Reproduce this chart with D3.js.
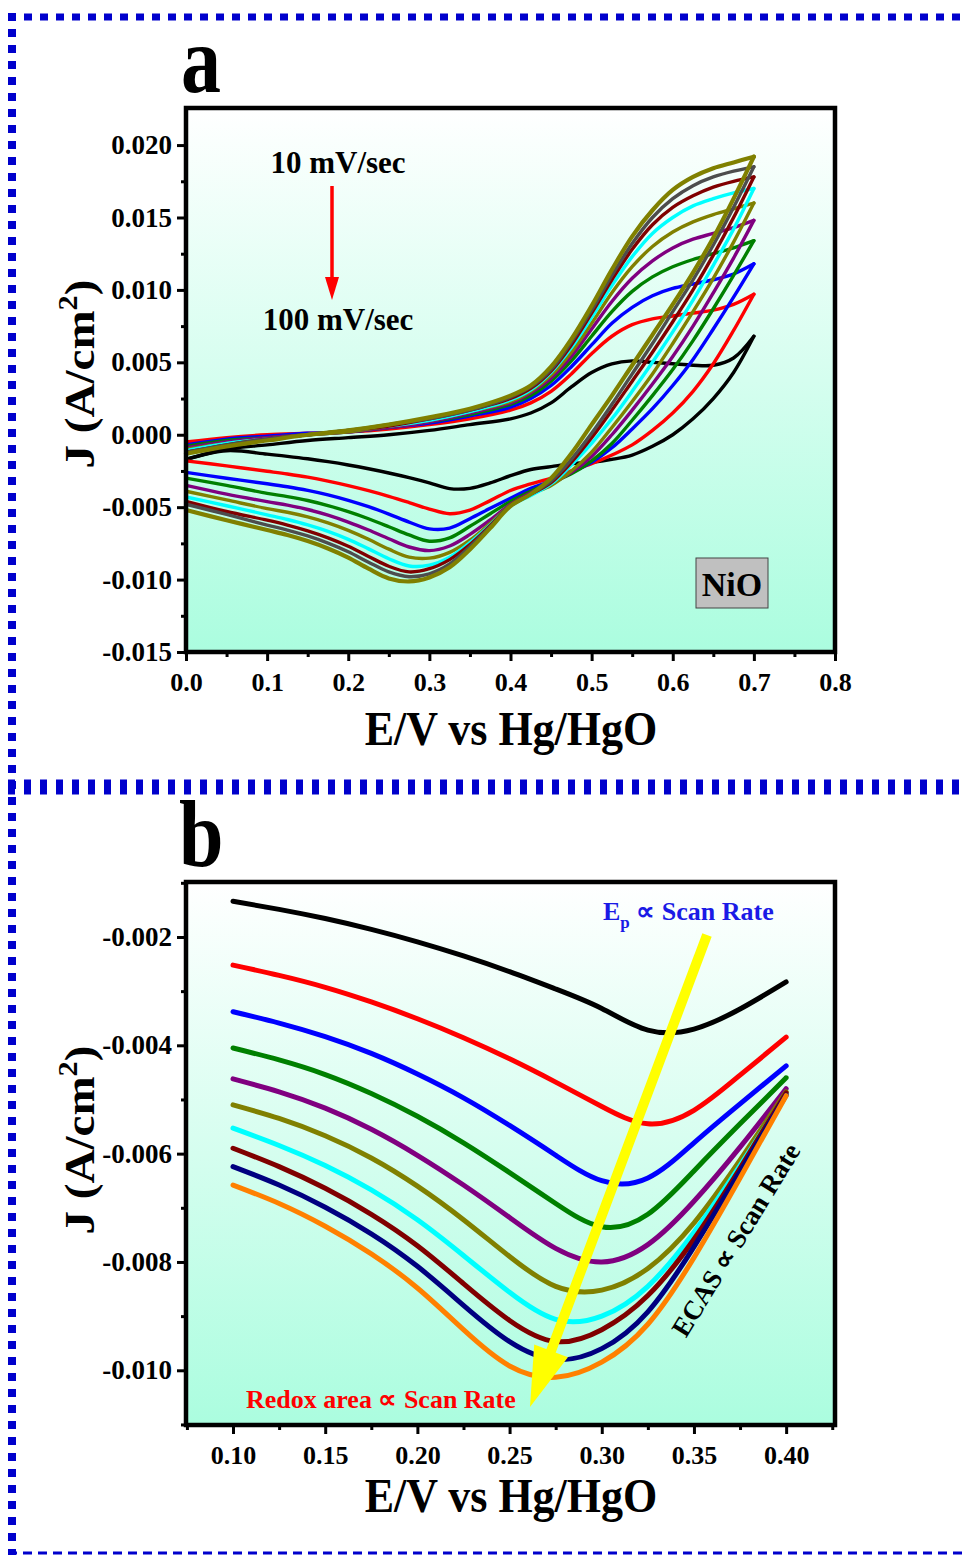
<!DOCTYPE html>
<html>
<head>
<meta charset="utf-8">
<script src="https://cdn.jsdelivr.net/npm/d3@7"></script>
<style>
  body { margin: 0; background: #fff; }
  svg text { font-family: "Liberation Serif", "Times New Roman", serif; font-weight: bold; }
</style>
</head>
<body>
<div id="chart"></div>
<script>
// scan rates, mV/s
const scanRates = [10, 20, 30, 40, 50, 60, 70, 80, 90, 100];
const coloursA = ['#000000', '#ff0000', '#0000ff', '#008000', '#800080', '#808000', '#00ffff', '#800000', '#4d4d4d', '#808000'];
const coloursB = ['#000000', '#ff0000', '#0000ff', '#008000', '#800080', '#808000', '#00ffff', '#800000', '#000080', '#ff8000'];

// anodic sweep 0 -> 0.7 V
const anodicE = [0, 0.05, 0.1, 0.15, 0.2, 0.25, 0.3, 0.35, 0.4, 0.425, 0.45, 0.475, 0.5, 0.525, 0.55, 0.575, 0.6, 0.625, 0.65, 0.675, 0.7];
const anodicJ = [
  [-0.0017, -0.0010, -0.0007, -0.0004, -0.0002, 0.0000, 0.0003, 0.0007, 0.0011, 0.0015, 0.0022, 0.0033, 0.0043, 0.0049, 0.0051, 0.0050, 0.0049, 0.0048, 0.0048, 0.0053, 0.0068],
  [-0.0005, -0.0002, 0.0000, 0.0001, 0.0002, 0.0004, 0.0007, 0.0011, 0.0017, 0.0022, 0.0030, 0.0042, 0.0056, 0.0068, 0.0076, 0.0080, 0.0082, 0.0084, 0.0086, 0.0090, 0.0097],
  [-0.0007, -0.0003, -0.0001, 0.0001, 0.0002, 0.0005, 0.0008, 0.0013, 0.0019, 0.0025, 0.0034, 0.0047, 0.0062, 0.0077, 0.0088, 0.0096, 0.0101, 0.0104, 0.0107, 0.0111, 0.0118],
  [-0.0008, -0.0004, -0.0002, 0.0000, 0.0002, 0.0005, 0.0009, 0.0014, 0.0021, 0.0027, 0.0037, 0.0051, 0.0068, 0.0085, 0.0099, 0.0109, 0.0116, 0.0121, 0.0125, 0.0129, 0.0134],
  [-0.0009, -0.0005, -0.0002, 0.0000, 0.0002, 0.0005, 0.0009, 0.0015, 0.0022, 0.0029, 0.0039, 0.0054, 0.0073, 0.0092, 0.0108, 0.0120, 0.0129, 0.0135, 0.0139, 0.0143, 0.0148],
  [-0.0010, -0.0006, -0.0003, 0.0000, 0.0002, 0.0006, 0.0010, 0.0016, 0.0023, 0.0030, 0.0041, 0.0057, 0.0077, 0.0098, 0.0116, 0.0130, 0.0140, 0.0147, 0.0152, 0.0156, 0.0160],
  [-0.0011, -0.0006, -0.0003, 0.0000, 0.0003, 0.0006, 0.0010, 0.0016, 0.0024, 0.0031, 0.0043, 0.0060, 0.0081, 0.0103, 0.0123, 0.0139, 0.0150, 0.0158, 0.0163, 0.0167, 0.0170],
  [-0.0012, -0.0007, -0.0003, 0.0000, 0.0003, 0.0006, 0.0011, 0.0017, 0.0025, 0.0032, 0.0044, 0.0062, 0.0084, 0.0107, 0.0128, 0.0145, 0.0157, 0.0165, 0.0171, 0.0175, 0.0178],
  [-0.0012, -0.0007, -0.0003, 0.0000, 0.0003, 0.0007, 0.0011, 0.0017, 0.0026, 0.0033, 0.0045, 0.0064, 0.0086, 0.0110, 0.0132, 0.0150, 0.0163, 0.0172, 0.0178, 0.0182, 0.0185],
  [-0.0013, -0.0008, -0.0004, 0.0000, 0.0003, 0.0007, 0.0012, 0.0018, 0.0027, 0.0034, 0.0047, 0.0066, 0.0089, 0.0114, 0.0137, 0.0155, 0.0169, 0.0178, 0.0184, 0.0188, 0.0192]
];

// cathodic sweep, 0.7 -> 0.425 V
const cathodicHighE = [0.7, 0.675, 0.65, 0.625, 0.6, 0.575, 0.55, 0.525, 0.5, 0.475, 0.45, 0.425];
const cathodicHighJ = [
  [0.0068, 0.0043, 0.0025, 0.0011, 0.0000, -0.0008, -0.0014, -0.0017, -0.0019, -0.0020, -0.0022, -0.0024],
  [0.0097, 0.0072, 0.0049, 0.0030, 0.0015, 0.0003, -0.0007, -0.0014, -0.0020, -0.0025, -0.0030, -0.0034],
  [0.0118, 0.0095, 0.0073, 0.0052, 0.0034, 0.0018, 0.0004, -0.0009, -0.0019, -0.0026, -0.0032, -0.0037],
  [0.0134, 0.0110, 0.0087, 0.0065, 0.0045, 0.0027, 0.0010, -0.0006, -0.0018, -0.0027, -0.0033, -0.0039],
  [0.0148, 0.0122, 0.0098, 0.0075, 0.0054, 0.0035, 0.0017, 0.0000, -0.0015, -0.0026, -0.0034, -0.0040],
  [0.0160, 0.0133, 0.0108, 0.0085, 0.0063, 0.0042, 0.0023, 0.0005, -0.0012, -0.0025, -0.0035, -0.0041],
  [0.0170, 0.0142, 0.0117, 0.0093, 0.0071, 0.0050, 0.0030, 0.0011, -0.0006, -0.0021, -0.0034, -0.0042],
  [0.0178, 0.0150, 0.0124, 0.0100, 0.0078, 0.0057, 0.0037, 0.0017, -0.0002, -0.0019, -0.0033, -0.0041],
  [0.0185, 0.0157, 0.0131, 0.0107, 0.0085, 0.0063, 0.0042, 0.0021, 0.0001, -0.0017, -0.0032, -0.0041],
  [0.0192, 0.0163, 0.0136, 0.0112, 0.0090, 0.0069, 0.0048, 0.0027, 0.0007, -0.0013, -0.0030, -0.0041]
];

// reduction peak region 0.10 - 0.40 V (panel b, also part of the cathodic sweep)
const peakE = [0.1, 0.125, 0.15, 0.175, 0.2, 0.225, 0.25, 0.275, 0.3, 0.325, 0.35, 0.375, 0.4];
const peakJ = [
  [-0.00134, -0.00149, -0.00166, -0.00186, -0.00209, -0.00235, -0.00264, -0.00296, -0.00332, -0.00372, -0.00370, -0.00333, -0.00283],
  [-0.00252, -0.00271, -0.00293, -0.00320, -0.00351, -0.00386, -0.00425, -0.00468, -0.00513, -0.00545, -0.00520, -0.00455, -0.00385],
  [-0.00338, -0.00359, -0.00384, -0.00415, -0.00453, -0.00497, -0.00548, -0.00603, -0.00650, -0.00645, -0.00580, -0.00508, -0.00438],
  [-0.00405, -0.00427, -0.00454, -0.00489, -0.00531, -0.00580, -0.00635, -0.00692, -0.00735, -0.00712, -0.00632, -0.00545, -0.00460],
  [-0.00462, -0.00486, -0.00516, -0.00555, -0.00603, -0.00658, -0.00718, -0.00775, -0.00800, -0.00768, -0.00688, -0.00588, -0.00480],
  [-0.00510, -0.00535, -0.00567, -0.00608, -0.00660, -0.00722, -0.00790, -0.00845, -0.00852, -0.00812, -0.00728, -0.00612, -0.00486],
  [-0.00553, -0.00585, -0.00622, -0.00667, -0.00722, -0.00788, -0.00856, -0.00906, -0.00900, -0.00845, -0.00745, -0.00622, -0.00490],
  [-0.00590, -0.00624, -0.00664, -0.00712, -0.00770, -0.00840, -0.00908, -0.00947, -0.00925, -0.00862, -0.00758, -0.00627, -0.00488],
  [-0.00624, -0.00658, -0.00699, -0.00748, -0.00808, -0.00880, -0.00947, -0.00980, -0.00960, -0.00892, -0.00772, -0.00633, -0.00492],
  [-0.00658, -0.00692, -0.00734, -0.00785, -0.00848, -0.00925, -0.00992, -0.01013, -0.00985, -0.00915, -0.00792, -0.00645, -0.00493]
];

// cathodic sweep tail, 0.05 -> 0 V
const cathodicLowE = [0.05, 0];
const cathodicLowJ = [
  [-0.0011, -0.0017], [-0.00215, -0.0018], [-0.0030, -0.0026], [-0.0035, -0.0030], [-0.0041, -0.0035],
  [-0.0045, -0.0039], [-0.0049, -0.0043], [-0.0053, -0.0046], [-0.0055, -0.0048], [-0.0059, -0.0052]
];

const xTicksA = [0, 0.1, 0.2, 0.3, 0.4, 0.5, 0.6, 0.7, 0.8];
const yTicksA = [-0.015, -0.01, -0.005, 0, 0.005, 0.01, 0.015, 0.02];
const xTicksB = [0.1, 0.15, 0.2, 0.25, 0.3, 0.35, 0.4];
const yTicksB = [-0.01, -0.008, -0.006, -0.004, -0.002];

const W = 967, H = 1555;
const svg = d3.select('#chart').append('svg').attr('width', W).attr('height', H);

const grad = svg.append('defs').append('linearGradient').attr('id', 'bg').attr('x1', 0).attr('y1', 0).attr('x2', 0).attr('y2', 1);
grad.append('stop').attr('offset', '0%').attr('stop-color', '#ffffff');
grad.append('stop').attr('offset', '100%').attr('stop-color', '#abfddf');

// dotted frame
const blue = '#0000cc';
svg.append('line').attr('x1', 8).attr('x2', W).attr('y1', 17).attr('y2', 17)
  .attr('stroke', blue).attr('stroke-width', 7).attr('stroke-dasharray', '8 8');
svg.append('line').attr('x1', 12).attr('x2', 12).attr('y1', 13).attr('y2', H)
  .attr('stroke', blue).attr('stroke-width', 8).attr('stroke-dasharray', '8 8');
svg.append('line').attr('x1', 8).attr('x2', W).attr('y1', 787).attr('y2', 787)
  .attr('stroke', blue).attr('stroke-width', 15).attr('stroke-dasharray', '7 9');
svg.append('line').attr('x1', 8).attr('x2', W).attr('y1', 1553).attr('y2', 1553)
  .attr('stroke', blue).attr('stroke-width', 3).attr('stroke-dasharray', '9 6');

const left = 186, right = 835;

function drawAxes(g, x, y, bottom, xTicks, xMinor, yTicks, yMinor, xFmt, yFmt) {
  const xa = g.append('g').attr('transform', `translate(0,${bottom})`)
    .call(d3.axisBottom(x).tickValues(xTicks).tickSize(9).tickSizeOuter(0).tickFormat(xFmt));
  xa.selectAll('text').attr('y', 39).attr('dy', 0).style('font-size', '26px').attr('fill', '#000');
  g.append('g').attr('transform', `translate(0,${bottom})`)
    .call(d3.axisBottom(x).tickValues(xMinor).tickSize(5).tickSizeOuter(0).tickFormat(''))
    .selectAll('text').remove();
  const ya = g.append('g').attr('transform', `translate(${left},0)`)
    .call(d3.axisLeft(y).tickValues(yTicks).tickSize(9).tickSizeOuter(0).tickPadding(5).tickFormat(yFmt));
  ya.selectAll('text').style('font-size', '27px').attr('fill', '#000');
  g.append('g').attr('transform', `translate(${left},0)`)
    .call(d3.axisLeft(y).tickValues(yMinor).tickSize(5).tickSizeOuter(0).tickFormat(''))
    .selectAll('text').remove();
  g.selectAll('.domain').remove();
  g.selectAll('.tick line').attr('stroke', '#000').attr('stroke-width', 3);
}

function plotBox(g, top, bottom) {
  return g.append('rect').attr('x', left).attr('y', top).attr('width', right - left).attr('height', bottom - top);
}

function axisTitles(g, yTitleMid, xTitleY) {
  g.append('text').attr('transform', `translate(511,${xTitleY}) scale(1,1.08)`)
    .attr('text-anchor', 'middle').style('font-size', '44px').text('E/V vs Hg/HgO');
  const yt = g.append('text').attr('transform', `translate(94,${yTitleMid}) rotate(-90) scale(1.12,1)`)
    .attr('text-anchor', 'middle').style('font-size', '42px');
  yt.append('tspan').text('J (A/cm');
  yt.append('tspan').attr('dy', -17).style('font-size', '27px').text('2');
  yt.append('tspan').attr('dy', 17).text(')');
}

// ---------- panel a ----------
const topA = 108, bottomA = 652;
const xA = d3.scaleLinear().domain([0, 0.8]).range([left, right]);
const yA = d3.scaleLinear().domain([-0.015, 0.02256]).range([bottomA, topA]);
const ga = svg.append('g');

plotBox(ga, topA, bottomA).attr('fill', 'url(#bg)');

const lineA = d3.line().x((d) => xA(d[0])).y((d) => yA(d[1])).curve(d3.curveCatmullRom.alpha(0.5));

scanRates.forEach((r, i) => {
  const anodic = anodicE.map((e, k) => [e, anodicJ[i][k]]);
  const cathodic = cathodicHighE.map((e, k) => [e, cathodicHighJ[i][k]])
    .concat(peakE.map((e, k) => [e, peakJ[i][k]]).reverse())
    .concat(cathodicLowE.map((e, k) => [e, cathodicLowJ[i][k]]));
  [anodic, cathodic].forEach((pts) => {
    ga.append('path').datum(pts)
      .attr('fill', 'none')
      .attr('stroke', coloursA[i])
      .attr('stroke-width', i === scanRates.length - 1 ? 4.2 : 3.4)
      .attr('stroke-linecap', 'round')
      .attr('stroke-linejoin', 'round')
      .attr('d', lineA);
  });
});

plotBox(ga, topA, bottomA).attr('fill', 'none').attr('stroke', '#000').attr('stroke-width', 4.5);

drawAxes(ga, xA, yA, bottomA, xTicksA, d3.range(0.05, 0.8, 0.1), yTicksA,
  d3.range(-0.0125, 0.02, 0.005), (d) => d.toFixed(1), (d) => d.toFixed(3));
axisTitles(ga, 374, 745);

ga.append('text').attr('transform', 'translate(181,92) scale(1,1.18)').style('font-size', '80px').text('a');

ga.append('text').attr('x', 338).attr('y', 173).attr('text-anchor', 'middle').style('font-size', '31px').text(`${scanRates[0]} mV/sec`);
ga.append('text').attr('x', 338).attr('y', 330).attr('text-anchor', 'middle').style('font-size', '31px').text(`${scanRates[scanRates.length - 1]} mV/sec`);
ga.append('line').attr('x1', 332).attr('x2', 332).attr('y1', 186).attr('y2', 280)
  .attr('stroke', '#ff0000').attr('stroke-width', 3.5);
ga.append('path').attr('d', 'M325,277 L339,277 L332,300 Z').attr('fill', '#ff0000');

ga.append('rect').attr('x', 696).attr('y', 558).attr('width', 72).attr('height', 50)
  .attr('fill', '#c0c0c0').attr('stroke', '#444').attr('stroke-width', 1);
ga.append('text').attr('x', 732).attr('y', 596).attr('text-anchor', 'middle').style('font-size', '34px').text('NiO');

// ---------- panel b ----------
const topB = 882, bottomB = 1425;
const xB = d3.scaleLinear().domain([0.0745, 0.4265]).range([left, right]);
const yB = d3.scaleLinear().domain([-0.01101, -0.000985]).range([bottomB, topB]);
const gb = svg.append('g');

plotBox(gb, topB, bottomB).attr('fill', 'url(#bg)');

const lineB = d3.line().x((d) => xB(d[0])).y((d) => yB(d[1])).curve(d3.curveNatural);
scanRates.forEach((r, i) => {
  gb.append('path').datum(peakE.map((e, k) => [e, peakJ[i][k]]))
    .attr('fill', 'none')
    .attr('stroke', coloursB[i])
    .attr('stroke-width', 5)
    .attr('stroke-linecap', 'round')
    .attr('d', lineB);
});

plotBox(gb, topB, bottomB).attr('fill', 'none').attr('stroke', '#000').attr('stroke-width', 4.5);

drawAxes(gb, xB, yB, bottomB, xTicksB, d3.range(0.075, 0.43, 0.05), yTicksB,
  d3.range(-0.011, -0.0005, 0.002), (d) => d.toFixed(2), (d) => d.toFixed(3));
axisTitles(gb, 1140, 1512);

gb.append('text').attr('transform', 'translate(179,866) scale(1,1.18)').style('font-size', '80px').text('b');

const ep = gb.append('text').attr('x', 603).attr('y', 920).attr('fill', '#1a1ae6').style('font-size', '26px');
ep.append('tspan').text('E');
ep.append('tspan').attr('dy', 8).style('font-size', '17px').text('p');
ep.append('tspan').attr('dy', -8).text(' \u221d Scan Rate');

gb.append('text').attr('x', 246).attr('y', 1408).attr('fill', '#ff0000').style('font-size', '26px')
  .text('Redox area \u221d Scan Rate');

gb.append('text').attr('transform', 'translate(736,1240) rotate(-58.5)').attr('text-anchor', 'middle')
  .attr('dy', 9).style('font-size', '27px').text('ECAS \u221d Scan Rate');

// yellow arrow
const ax1 = 707, ay1 = 935, ax2 = 530, ay2 = 1407;
const len = Math.hypot(ax2 - ax1, ay2 - ay1);
const ux = (ax2 - ax1) / len, uy = (ay2 - ay1) / len;
const bx = ax2 - 60 * ux, by = ay2 - 60 * uy;
gb.append('line').attr('x1', ax1).attr('y1', ay1).attr('x2', bx + 5 * ux).attr('y2', by + 5 * uy)
  .attr('stroke', '#ffff00').attr('stroke-width', 10);
gb.append('path')
  .attr('d', `M${ax2},${ay2} L${bx - 18 * uy},${by + 18 * ux} L${bx + 18 * uy},${by - 18 * ux} Z`)
  .attr('fill', '#ffff00');
</script>
</body>
</html>
